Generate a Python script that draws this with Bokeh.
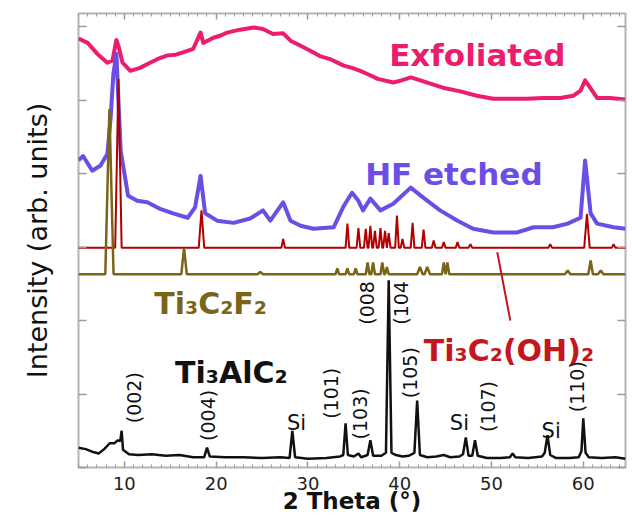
import math
from bokeh.plotting import figure
from bokeh.models import Range1d, LinearAxis, FixedTicker, Label, CustomJSTickFormatter
from bokeh.embed import file_html
from bokeh.resources import INLINE

# ---------------- data (2 theta in degrees, intensity in offset units) ----------------
exf_theta = [5.0, 6.0, 7.06, 8.15, 8.7, 9.13, 9.35, 9.8, 10.65, 11.7, 12.8, 13.8, 14.7, 15.6, 16.4, 17.5,
             18.3, 18.6, 19.7, 20.5, 21.2, 22.6, 24.1, 25.1, 26.2, 27.3, 28.1, 29.2, 30.3, 31.3, 32.4,
             33.9, 34.8, 35.7, 36.6, 37.6, 39.3, 40.2, 41.2, 42.0, 43.0, 44.7, 46.6, 48.4, 50.2, 52.0,
             53.9, 55.6, 57.5, 58.9, 59.7, 60.2, 60.8, 61.5, 62.9, 64.6]
exf_int = [5.84, 5.78, 5.63, 5.51, 5.54, 5.82, 5.74, 5.51, 5.40, 5.44, 5.51, 5.57, 5.61, 5.62, 5.65, 5.70,
           5.92, 5.78, 5.85, 5.88, 5.92, 5.96, 5.99, 5.97, 5.90, 5.91, 5.81, 5.74, 5.67, 5.60, 5.56,
           5.47, 5.44, 5.40, 5.35, 5.29, 5.24, 5.27, 5.31, 5.28, 5.24, 5.17, 5.12, 5.06, 5.02, 5.02,
           5.02, 5.03, 5.03, 5.06, 5.13, 5.27, 5.16, 5.03, 5.03, 5.01]

hf_theta = [5.0, 5.5, 6.5, 7.4, 8.15, 8.5, 8.8, 9.13, 9.35, 9.6, 10.4, 11.4, 12.5, 13.9, 15.3, 16.9,
            17.7, 18.3, 18.8, 20.1, 21.9, 23.7, 25.1, 25.9, 27.3, 28.1, 29.2, 30.6, 32.8, 33.9, 34.8,
            35.5, 36.0, 36.8, 37.9, 39.3, 41.2, 42.6, 44.4, 46.3, 48.0, 50.2, 52.8, 54.6, 56.7, 58.3,
            59.7, 60.2, 60.8, 61.5, 63.3, 64.6]
hf_int = [4.18, 4.24, 4.04, 4.11, 4.27, 4.76, 5.36, 5.63, 5.00, 4.31, 3.70, 3.63, 3.61, 3.52, 3.46, 3.40,
          3.54, 3.97, 3.46, 3.36, 3.33, 3.39, 3.50, 3.36, 3.61, 3.36, 3.29, 3.25, 3.27, 3.56, 3.74,
          3.63, 3.50, 3.66, 3.50, 3.59, 3.81, 3.67, 3.50, 3.36, 3.25, 3.20, 3.20, 3.27, 3.27, 3.32,
          3.40, 4.18, 3.46, 3.32, 3.27, 3.25]

oh_base = 2.99
oh_peaks = [9.35, 18.4, 27.3, 34.3, 35.5, 36.3, 36.8, 37.3, 37.9, 38.4, 38.8, 39.7, 40.3, 41.4, 42.6,
            43.7, 44.8, 46.3, 47.7, 56.4, 60.4, 63.3]
oh_heights = [2.30, 0.51, 0.12, 0.33, 0.27, 0.26, 0.30, 0.23, 0.27, 0.23, 0.20, 0.44, 0.12, 0.34, 0.25,
              0.10, 0.08, 0.08, 0.05, 0.05, 0.46, 0.05]
oh_halfwidth = [0.35, 0.3, 0.2, 0.2, 0.2, 0.2, 0.2, 0.2, 0.2, 0.2, 0.2, 0.2, 0.2, 0.2, 0.2,
                0.2, 0.2, 0.2, 0.2, 0.2, 0.3, 0.2]

f_base = 2.63
f_peaks = [8.37, 16.5, 24.8, 33.2, 34.3, 35.2, 36.5, 37.1, 38.1, 38.6, 42.2, 43.0, 44.8, 45.2, 58.3, 60.8, 61.9]
f_heights = [2.25, 0.36, 0.03, 0.08, 0.08, 0.08, 0.16, 0.16, 0.16, 0.10, 0.10, 0.10, 0.16, 0.16, 0.05, 0.19, 0.05]
f_halfwidth = [0.45, 0.3, 0.3, 0.2, 0.2, 0.2, 0.2, 0.2, 0.2, 0.2, 0.3, 0.3, 0.2, 0.2, 0.3, 0.25, 0.3]

max_theta = [5.0, 5.8, 6.6, 7.2, 7.8, 8.4, 8.9, 9.3, 9.55, 9.7, 9.85, 10.5, 11.5, 13.0, 14.5, 16.0, 17.5,
             18.7, 19.0, 19.3, 21.0, 23.0, 25.0, 27.0, 28.0, 28.3, 28.6, 30.0, 32.0, 33.5, 33.85, 34.1,
             34.35, 35.0, 35.5, 35.8, 36.5, 36.8, 37.1, 38.0, 38.5, 38.8, 39.1, 39.6, 40.3, 41.0, 41.6,
             41.9, 42.2, 43.0, 44.0, 44.8, 45.5, 46.5, 46.9, 47.2, 47.5, 47.9, 48.2, 48.5, 49.5, 51.0,
             52.0, 52.3, 52.6, 54.0, 55.5, 55.8, 56.1, 56.4, 57.0, 58.5, 59.5, 59.8, 60.0, 60.25, 60.6,
             62.0, 63.5, 64.6]
max_int = [0.27, 0.25, 0.21, 0.19, 0.25, 0.33, 0.33, 0.37, 0.36, 0.50, 0.24, 0.18, 0.17, 0.18, 0.16, 0.17, 0.14,
           0.14, 0.27, 0.15, 0.14, 0.14, 0.13, 0.14, 0.13, 0.50, 0.14, 0.12, 0.13, 0.15, 0.17, 0.60,
           0.17, 0.15, 0.19, 0.14, 0.17, 0.37, 0.16, 0.16, 0.20, 2.55, 0.20, 0.17, 0.15, 0.16, 0.20,
           0.91, 0.17, 0.14, 0.15, 0.17, 0.14, 0.15, 0.18, 0.41, 0.16, 0.16, 0.37, 0.16, 0.13, 0.13,
           0.14, 0.19, 0.14, 0.13, 0.15, 0.20, 0.44, 0.17, 0.13, 0.13, 0.14, 0.22, 0.67, 0.20, 0.14,
           0.13, 0.14, 0.12]

# reflection labels: text, 2theta, intensity (label centre)
hkl_text = ["(002)", "(004)", "(101)", "(103)", "(008", "(104", "(105)", "(107)", "(110)"]
hkl_theta = [11.1, 19.15, 32.55, 35.7, 36.45, 40.15, 41.15, 49.65, 59.35]
hkl_int = [0.95, 0.71, 1.01, 0.73, 2.24, 2.24, 1.29, 0.83, 1.10]

si_theta = [28.75, 46.5, 56.5]
si_int = [0.60, 0.60, 0.50]

x_ticks = [10, 20, 30, 40, 50, 60]
y_ticks = [0, 1, 2, 3, 4, 5, 6]
x_title = "2 Theta (°)"
y_title = "Intensity (arb. units)"

C_EXF = "#EC1C6E"
C_HF = "#6B4EE6"
C_OH = "#B00000"
C_OH_TXT = "#C4161F"
C_F = "#7A6418"
C_MAX = "#111111"


def peak_trace(peaks, heights, halfwidths, base, x0, x1):
    xs, ys = [x0], [base]
    for t, h, w in zip(peaks, heights, halfwidths):
        xs += [t - w, t, t + w]
        ys += [base, base + h, base]
    xs.append(x1)
    ys.append(base)
    return xs, ys


p = figure(width=632, height=517, x_range=Range1d(5.0, 64.6), y_range=Range1d(0, 6.18),
           output_backend="svg", toolbar_location=None,
           min_border_left=78, min_border_top=13, min_border_right=7, min_border_bottom=50)
p.background_fill_color = "white"
p.border_fill_color = "white"
p.grid.visible = False
p.outline_line_color = "#B4B4B4"
p.outline_line_width = 2

blank = CustomJSTickFormatter(code="return ''")

# bottom axis
xa = p.xaxis[0]
xa.ticker = FixedTicker(ticks=x_ticks, minor_ticks=list(range(5, 65)))
xa.axis_line_color = None
xa.major_tick_in = 6
xa.major_tick_out = 0
xa.minor_tick_in = 3
xa.minor_tick_out = 0
xa.major_tick_line_color = "#9A9A9A"
xa.minor_tick_line_color = "#9A9A9A"
xa.major_tick_line_width = 1.5
xa.major_label_text_font = "DejaVu Sans"
xa.major_label_text_font_size = "18px"
xa.major_label_text_color = "#222222"
xa.major_label_standoff = 9
xa.axis_label = x_title
xa.axis_label_text_font = "DejaVu Sans"
xa.axis_label_text_font_style = "bold"
xa.axis_label_text_font_size = "23px"
xa.axis_label_text_color = "#111111"
xa.axis_label_standoff = -5

# top axis
ta = LinearAxis(ticker=FixedTicker(ticks=x_ticks, minor_ticks=list(range(5, 65))), formatter=blank)
ta.axis_line_color = None
ta.major_tick_in = 6
ta.major_tick_out = 0
ta.minor_tick_in = 3
ta.minor_tick_out = 0
ta.major_tick_line_color = "#9A9A9A"
ta.minor_tick_line_color = "#9A9A9A"
ta.major_tick_line_width = 1.5
ta.major_label_text_font_size = "1px"
ta.major_label_standoff = 0
p.add_layout(ta, "above")

# left axis
ya = p.yaxis[0]
ya.ticker = FixedTicker(ticks=y_ticks, minor_ticks=[])
ya.formatter = blank
ya.axis_line_color = None
ya.major_tick_in = 8
ya.major_tick_out = 0
ya.major_tick_line_color = "#9A9A9A"
ya.major_tick_line_width = 1.5
ya.major_label_text_font_size = "1px"
ya.major_label_standoff = 0
ya.axis_label = y_title
ya.axis_label_text_font = "DejaVu Sans"
ya.axis_label_text_font_style = "normal"
ya.axis_label_text_font_size = "27px"
ya.axis_label_text_color = "#111111"
ya.axis_label_standoff = 26

# right axis
ra = LinearAxis(ticker=FixedTicker(ticks=y_ticks, minor_ticks=[]), formatter=blank)
ra.axis_line_color = None
ra.major_tick_in = 8
ra.major_tick_out = 0
ra.major_tick_line_color = "#9A9A9A"
ra.major_tick_line_width = 1.5
ra.major_label_text_font_size = "1px"
ra.major_label_standoff = 0
p.add_layout(ra, "right")

# ---------------- traces ----------------
p.line(exf_theta, exf_int, line_color=C_EXF, line_width=4, line_join="round")
p.line(hf_theta, hf_int, line_color=C_HF, line_width=4, line_join="round")
ox, oy = peak_trace(oh_peaks, oh_heights, oh_halfwidth, oh_base, 5.0, 64.6)
p.line(ox, oy, line_color=C_OH, line_width=2)
fx, fy = peak_trace(f_peaks, f_heights, f_halfwidth, f_base, 5.0, 64.6)
p.line(fx, fy, line_color=C_F, line_width=2.5)
p.line(max_theta, max_int, line_color=C_MAX, line_width=2.5)

# pointer for Ti3C2(OH)2
p.segment(x0=[50.63], y0=[2.93], x1=[52.05], y1=[2.0], line_color=C_OH_TXT, line_width=2)

# ---------------- labels ----------------
def add_label(x, y, text, color, size, bold=True, angle=0.0, baseline="alphabetic"):
    p.add_layout(Label(x=x, y=y, text=text, text_color=color, text_font="DejaVu Sans",
                       text_font_style="bold" if bold else "normal", text_font_size=size,
                       text_align="center", text_baseline=baseline, angle=angle))

add_label(48.45, 5.61, "Exfoliated", C_EXF, "31px")
add_label(45.9, 4.0, "HF etched", C_HF, "31px")
add_label(19.4, 2.23, "Ti₃C₂F₂", C_F, "30px")
add_label(21.65, 1.29, "Ti₃AlC₂", C_MAX, "30px")
add_label(51.9, 1.59, "Ti₃C₂(OH)₂", C_OH_TXT, "30px")

for t, x, y in zip(hkl_text, hkl_theta, hkl_int):
    add_label(x, y, t, "#111111", "19px", bold=False, angle=math.pi / 2, baseline="middle")
for x, y in zip(si_theta, si_int):
    add_label(x, y, "Si", "#111111", "21px", bold=False)

open("out.html", "w").write(file_html(p, INLINE))
